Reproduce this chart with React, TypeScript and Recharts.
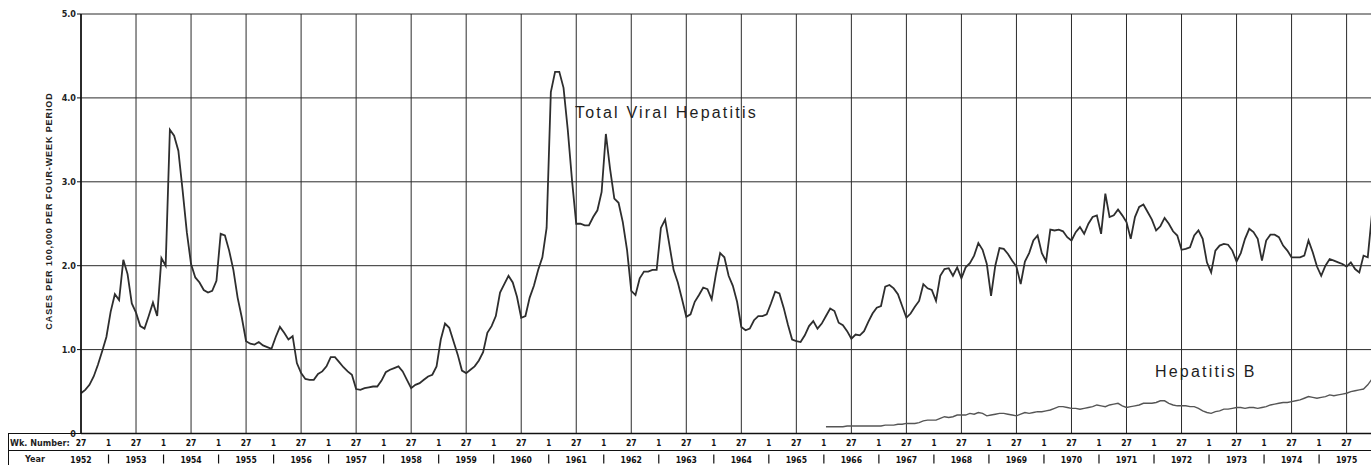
import React from 'react';
import { LineChart, Line, XAxis, YAxis, CartesianGrid } from 'recharts';

// one point per four-week period; index 0 = week 27 of 1952
const PERIODS_PER_YEAR = 13;

const yearLabels = [
  1952, 1953, 1954, 1955, 1956, 1957, 1958, 1959, 1960, 1961, 1962, 1963,
  1964, 1965, 1966, 1967, 1968, 1969, 1970, 1971, 1972, 1973, 1974, 1975,
];
const weekLabels = ['27', '1'];
const yTicks = [0, 1, 2, 3, 4, 5];

// Total viral hepatitis, cases per 100,000 per four-week period (each row starts at wk 27)
const totalViral1952to1957 = [
  0.48, 0.52, 0.58, 0.68, 0.82, 0.98, 1.15, 1.45, 1.66, 1.59, 2.07, 1.9, 1.55,
  1.44, 1.28, 1.25, 1.4, 1.56, 1.4, 2.09, 2.0, 3.62, 3.55, 3.37, 2.9, 2.4,
  2.02, 1.86, 1.8, 1.71, 1.68, 1.7, 1.82, 2.38, 2.36, 2.18, 1.95, 1.62, 1.38,
  1.1, 1.07, 1.06, 1.09, 1.05, 1.03, 1.01, 1.15, 1.27, 1.2, 1.12, 1.16, 0.84,
  0.72, 0.65, 0.64, 0.64, 0.71, 0.74, 0.8, 0.91, 0.91, 0.85, 0.79, 0.74, 0.7,
  0.53, 0.52, 0.54, 0.55, 0.56, 0.56, 0.63, 0.73, 0.76, 0.78, 0.8, 0.74, 0.64,
];
const totalViral1958to1963 = [
  0.54, 0.58, 0.6, 0.64, 0.68, 0.7, 0.8, 1.12, 1.31, 1.26, 1.1, 0.94, 0.75,
  0.72, 0.76, 0.8, 0.87, 0.97, 1.2, 1.28, 1.4, 1.68, 1.78, 1.88, 1.8, 1.63,
  1.38, 1.4, 1.62, 1.76, 1.95, 2.1, 2.45, 4.07, 4.31, 4.31, 4.12, 3.62, 3.02,
  2.5, 2.5, 2.48, 2.48, 2.58, 2.66, 2.88, 3.57, 3.15, 2.8, 2.75, 2.52, 2.19,
  1.7, 1.65, 1.85, 1.93, 1.93, 1.95, 1.95, 2.45, 2.55, 2.25, 1.95, 1.8, 1.6,
  1.39, 1.42, 1.57, 1.65, 1.74, 1.72, 1.6, 1.9, 2.15, 2.1, 1.88, 1.76, 1.57,
];
const totalViral1964to1969 = [
  1.27, 1.23, 1.25, 1.35, 1.4, 1.4, 1.42, 1.55, 1.69, 1.67, 1.5, 1.3, 1.12,
  1.1, 1.09, 1.17, 1.28, 1.34, 1.25, 1.31, 1.4, 1.49, 1.46, 1.32, 1.29, 1.22,
  1.13, 1.18, 1.17, 1.22, 1.33, 1.43, 1.5, 1.52, 1.75, 1.77, 1.73, 1.66, 1.52,
  1.38, 1.43, 1.51, 1.58, 1.78, 1.73, 1.71, 1.58, 1.88, 1.96, 1.97, 1.88, 1.98,
  1.85, 1.98, 2.03, 2.12, 2.27, 2.19, 2.02, 1.64, 2.0, 2.21, 2.2, 2.14, 2.06,
  1.99, 1.78, 2.05, 2.15, 2.3, 2.36, 2.15, 2.05, 2.43, 2.42, 2.43, 2.41, 2.34,
];
const totalViral1970to1975 = [
  2.3, 2.4, 2.46, 2.38, 2.5, 2.58, 2.6, 2.38, 2.86, 2.58, 2.6, 2.67, 2.6,
  2.52, 2.32, 2.58, 2.7, 2.73, 2.64, 2.55, 2.42, 2.47, 2.57, 2.5, 2.41, 2.36,
  2.19, 2.2, 2.22, 2.36, 2.42, 2.32, 2.04, 1.92, 2.18, 2.24, 2.26, 2.25, 2.18,
  2.05, 2.15, 2.32, 2.44, 2.4, 2.32, 2.06, 2.3, 2.37, 2.37, 2.34, 2.24, 2.18,
  2.1, 2.1, 2.1, 2.12, 2.3, 2.16, 1.99, 1.88, 2.0, 2.08, 2.06, 2.04, 2.02,
  1.99, 2.04, 1.96, 1.92, 2.12, 2.1, 2.62,
];

// Hepatitis B, begins at period index 176 (start of 1966)
const hepBStart = 176;
const hepatitisB1966to1970 = [
  0.08, 0.08, 0.08, 0.08, 0.08, 0.09,
  0.09, 0.09, 0.09, 0.09, 0.09, 0.09, 0.09, 0.09, 0.1, 0.1, 0.1, 0.11, 0.11,
  0.12, 0.12, 0.12, 0.13, 0.15, 0.16, 0.16, 0.16, 0.18, 0.2, 0.19, 0.2, 0.22,
  0.22, 0.22, 0.24, 0.23, 0.25, 0.24, 0.21, 0.22, 0.23, 0.24, 0.24, 0.23, 0.22,
  0.21, 0.23, 0.25, 0.24, 0.25, 0.26, 0.26, 0.27, 0.28, 0.3, 0.32, 0.32, 0.31,
];
const hepatitisB1971to1975 = [
  0.3, 0.3, 0.29, 0.3, 0.31, 0.32, 0.34, 0.33, 0.32, 0.34, 0.35, 0.36, 0.33,
  0.31, 0.32, 0.33, 0.34, 0.36, 0.36, 0.36, 0.37, 0.39, 0.39, 0.36, 0.34, 0.33,
  0.33, 0.33, 0.32, 0.32, 0.3, 0.27, 0.25, 0.24, 0.26, 0.27, 0.29, 0.29, 0.3,
  0.31, 0.31, 0.3, 0.31, 0.31, 0.3, 0.31, 0.32, 0.34, 0.35, 0.36, 0.37, 0.37,
  0.38, 0.39, 0.4, 0.42, 0.44, 0.43, 0.42, 0.43, 0.44, 0.46, 0.45, 0.46, 0.47,
  0.48, 0.5, 0.51, 0.52, 0.53, 0.58, 0.65,
];

const totalViral = [
  ...totalViral1952to1957,
  ...totalViral1958to1963,
  ...totalViral1964to1969,
  ...totalViral1970to1975,
];
const hepatitisB = [...hepatitisB1966to1970, ...hepatitisB1971to1975];

const data = totalViral.map((v, i) => ({
  i,
  total: v,
  hepB: i >= hepBStart ? hepatitisB[i - hepBStart] : null,
}));

const lastIndex = totalViral.length - 1;
const yearTicks = yearLabels.map((_, k) => k * PERIODS_PER_YEAR);
const tableTicks: number[] = [];
yearTicks.forEach((t) => {
  tableTicks.push(t);
  if (t + PERIODS_PER_YEAR / 2 <= lastIndex) tableTicks.push(t + PERIODS_PER_YEAR / 2);
});

const tickFont = '"Liberation Sans Narrow", "DejaVu Sans Condensed", "Liberation Sans", sans-serif';
const labelFont = '"Liberation Sans", Arial, sans-serif';

const TableTick = (props: any) => {
  const { x, y, payload } = props;
  const k = payload.value / PERIODS_PER_YEAR;
  if (Number.isInteger(k)) {
    return (
      <g fontFamily={tickFont} fontWeight="bold" fontSize={8.5} fill="#111">
        <text x={x} y={y + 12.5} textAnchor="middle">{weekLabels[0]}</text>
        <text x={x} y={y + 29} textAnchor="middle">{yearLabels[k]}</text>
      </g>
    );
  }
  return (
    <g fontFamily={tickFont} fontWeight="bold" fontSize={8} fill="#111">
      <text x={x} y={y + 12.5} textAnchor="middle">{weekLabels[1]}</text>
      <line x1={x} x2={x} y1={y + 21} y2={y + 30} stroke="#111" strokeWidth={1.2} />
    </g>
  );
};

const textStyle: React.CSSProperties = {
  position: 'absolute',
  fontFamily: labelFont,
  color: '#1e1e1e',
  whiteSpace: 'nowrap',
};

export default function App() {
  return (
    <div style={{ position: 'relative', width: 1371, height: 465, overflow: 'hidden', background: '#fff' }}>
      <style>{'body{margin:0}'}</style>
      <LineChart
        width={1372}
        height={465}
        data={data}
        margin={{ top: 14, right: 0, left: 0, bottom: 0 }}
      >
        <CartesianGrid
          stroke="#2b2b2b"
          strokeWidth={1}
          verticalValues={yearTicks}
          horizontalValues={yTicks}
        />
        <XAxis
          dataKey="i"
          type="number"
          domain={[0, 305]}
          ticks={tableTicks}
          interval={0}
          tick={<TableTick />}
          tickLine={false}
          tickSize={0}
          tickMargin={0}
          height={31.5}
          axisLine={{ stroke: '#111', strokeWidth: 1.3 }}
          allowDataOverflow
        />
        <YAxis
          type="number"
          domain={[0, 5]}
          ticks={yTicks}
          width={81}
          tickSize={4}
          tickMargin={1}
          tickLine={{ stroke: '#111' }}
          axisLine={{ stroke: '#111', strokeWidth: 1.6 }}
          tickFormatter={(v: number) => (v === 0 ? '0' : v.toFixed(1))}
          tick={{ fontFamily: tickFont, fontWeight: 'bold', fontSize: 9, fill: '#222' }}
        />
        <Line
          type="linear"
          dataKey="total"
          stroke="#2e2e2e"
          strokeWidth={1.8}
          dot={false}
          isAnimationActive={false}
        />
        <Line
          type="linear"
          dataKey="hepB"
          stroke="#555"
          strokeWidth={1.4}
          dot={false}
          connectNulls={false}
          isAnimationActive={false}
        />
      </LineChart>

      {/* table borders */}
      <div style={{ position: 'absolute', left: 8, top: 433, width: 73, height: 1.3, background: '#111' }} />
      <div style={{ position: 'absolute', left: 8, top: 450, width: 1363, height: 1, background: '#111' }} />
      <div style={{ position: 'absolute', left: 7.5, top: 433, width: 1.2, height: 32, background: '#111' }} />

      <div style={{ ...textStyle, left: 10, top: 438.5, fontSize: 9, lineHeight: '9px', fontWeight: 'bold', fontFamily: tickFont }}>
        Wk. Number:
      </div>
      <div style={{ ...textStyle, left: 25, top: 455, fontSize: 9, lineHeight: '9px', fontWeight: 'bold', fontFamily: tickFont }}>
        Year
      </div>

      <div
        style={{
          ...textStyle,
          left: 49,
          top: 211,
          fontSize: 9,
          lineHeight: '9px',
          fontWeight: 'bold',
          letterSpacing: 0.9,
          transform: 'translate(-50%, -50%) rotate(-90deg)',
        }}
      >
        CASES PER 100,000 PER FOUR-WEEK PERIOD
      </div>

      <div style={{ ...textStyle, left: 575, top: 104.5, fontSize: 16, lineHeight: '16px', letterSpacing: 2.2 }}>
        Total Viral Hepatitis
      </div>
      <div style={{ ...textStyle, left: 1155, top: 363.5, fontSize: 16, lineHeight: '16px', letterSpacing: 2.2 }}>
        Hepatitis B
      </div>
    </div>
  );
}
